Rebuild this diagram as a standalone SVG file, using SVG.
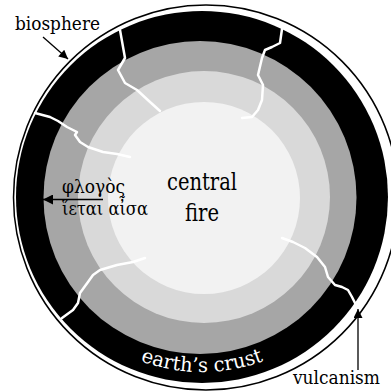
<svg xmlns="http://www.w3.org/2000/svg" width="391" height="392" viewBox="0 0 391 392">
  <defs>
    <style>
      text { font-family: "DejaVu Serif Condensed", "DejaVu Serif", serif; fill: #000; }
      .lbl { font-size: 19px; }
      .core { font-size: 24px; }
      .crust { font-size: 20px; fill: #fff; }
      .crack { fill: none; stroke: #fff; stroke-width: 2.5; stroke-linejoin: round; stroke-linecap: round; }
      .ptr { fill: none; stroke: #000; stroke-width: 1.3; }
    </style>
    <marker id="head" viewBox="0 0 10 10" refX="10" refY="5" markerUnits="userSpaceOnUse" markerWidth="13" markerHeight="9" orient="auto">
      <path d="M0,0 L10,5 L0,10 Z" fill="#000"/>
    </marker>
    <marker id="headLong" viewBox="0 0 10 10" refX="10" refY="5" markerUnits="userSpaceOnUse" markerWidth="17" markerHeight="10" orient="auto">
      <path d="M0,0 L10,5 L0,10 Z" fill="#000"/>
    </marker>
    <path id="crustArc" d="M27,197 A175,175 0 0 0 377,197"/>
  </defs>

  <!-- layered sphere -->
  <g id="sphere">
    <circle cx="206" cy="197.5" r="192.5" fill="none" stroke="#000" stroke-width="1.5"/>
    <circle id="crust-layer" cx="202" cy="197" r="186" fill="#000"/>
    <circle id="mantle-outer" cx="200" cy="197.5" r="156.5" fill="#a6a6a6"/>
    <circle id="mantle-inner" cx="204" cy="197" r="126" fill="#d9d9d9"/>
    <circle id="core" cx="204" cy="198" r="96" fill="#f2f2f2"/>
  </g>

  <!-- fissures running out through the crust -->
  <g id="cracks">
    <path class="crack" d="M120,30 L125,58 L118,70 L125,83 L137,90 L150,102 L160,111"/>
    <path class="crack" d="M35,113 L50,117 L58,121 L67,127 L77,132 L75,135 L80,142 L88,147 L103,152 L117,154 L130,157"/>
    <path class="crack" d="M282,29 L280,43 L272,47 L265,50 L262,58 L258,75 L263,85 L262,100 L258,110 L252,117 L242,118"/>
    <path class="crack" d="M145,258 L133,262 L117,265 L100,270 L93,275 L88,282 L80,293 L78,303 L73,310 L62,318"/>
    <path class="crack" d="M282,238 L293,242 L305,248 L317,257 L325,267 L328,277 L335,285 L342,287 L348,290 L352,297 L356,305 L362,300"/>
  </g>

  <!-- pointers -->
  <g id="connectors">
    <line class="ptr" x1="43" y1="37" x2="68" y2="59" marker-end="url(#head)"/>
    <line class="ptr" x1="103" y1="199.5" x2="43" y2="199.5" marker-end="url(#headLong)"/>
    <line class="ptr" x1="358" y1="370" x2="358" y2="309" marker-end="url(#head)"/>
  </g>

  <g id="label-biosphere">
    <text class="lbl" x="15" y="30" textLength="85" lengthAdjust="spacingAndGlyphs">biosphere</text>
  </g>
  <g id="label-central-fire">
    <text class="core" x="167" y="190" textLength="70" lengthAdjust="spacingAndGlyphs">central</text>
    <text class="core" x="185" y="221" textLength="34" lengthAdjust="spacingAndGlyphs">fire</text>
  </g>
  <g id="label-greek">
    <text class="lbl" x="62" y="193" textLength="63" lengthAdjust="spacingAndGlyphs">φλογὸς</text>
    <text class="lbl" x="62" y="215" textLength="86" lengthAdjust="spacingAndGlyphs">ἵεται αἶσα</text>
  </g>
  <g id="label-crust">
    <text class="crust"><textPath href="#crustArc" startOffset="50%" text-anchor="middle" textLength="126" lengthAdjust="spacingAndGlyphs">earth’s crust</textPath></text>
  </g>
  <g id="label-vulcanism">
    <text class="lbl" x="293" y="384" textLength="87" lengthAdjust="spacingAndGlyphs">vulcanism</text>
  </g>
</svg>
